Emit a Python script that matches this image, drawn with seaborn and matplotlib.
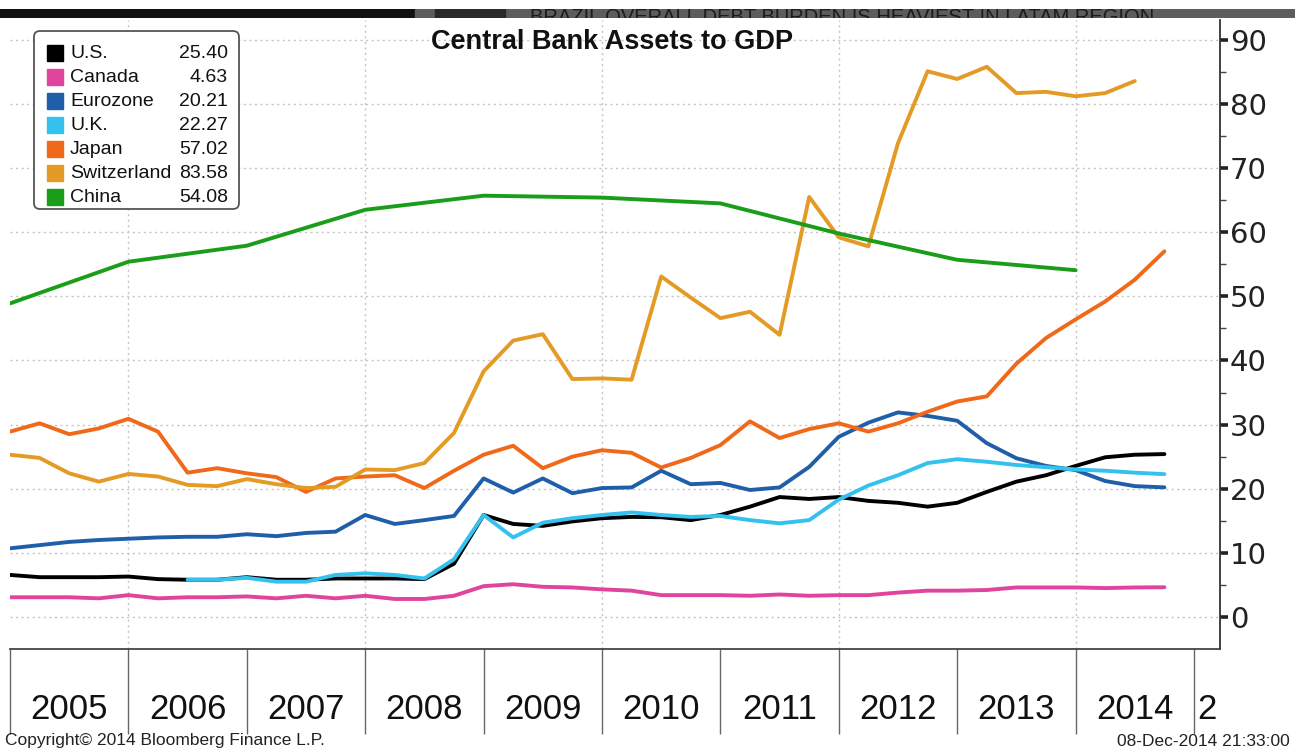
import numpy as np
import pandas as pd
import matplotlib
matplotlib.use("Agg")
import matplotlib.pyplot as plt
import seaborn as sns
from matplotlib import font_manager
from matplotlib.patches import FancyBboxPatch, Rectangle

# ---------------- data ----------------
series_names = ["U.S.", "Canada", "Eurozone", "U.K.", "Japan", "Switzerland", "China"]
series_colors = ["#000000", "#e0449c", "#1f5fa9", "#33c2ee", "#f0691a", "#e39b26", "#1a9e1a"]

quarters = [2005 + q / 4 for q in range(40)]          # 2005Q1 .. 2014Q4 (start of quarter)
china_years = [2005, 2006, 2007, 2008, 2009, 2010, 2011, 2012, 2013, 2014]

us = [6.55, 6.2, 6.2, 6.2, 6.3, 5.9, 5.8, 5.8, 6.2, 5.8,
      5.8, 6.0, 6.0, 6.0, 5.9, 8.3, 15.9, 14.5, 14.2, 14.9,
      15.4, 15.6, 15.55, 15.1, 15.9, 17.2, 18.7, 18.4, 18.7, 18.1,
      17.8, 17.2, 17.8, 19.5, 21.1, 22.1, 23.55, 24.9, 25.3, 25.40]
canada = [3.07, 3.07, 3.07, 2.9, 3.4, 2.9, 3.07, 3.07, 3.2, 2.9,
          3.3, 2.9, 3.3, 2.8, 2.8, 3.3, 4.8, 5.1, 4.7, 4.6,
          4.3, 4.1, 3.4, 3.4, 3.4, 3.3, 3.5, 3.3, 3.4, 3.4,
          3.8, 4.1, 4.1, 4.2, 4.6, 4.6, 4.6, 4.5, 4.6, 4.63]
eurozone = [10.7, 11.2, 11.7, 12.0, 12.2, 12.4, 12.5, 12.5, 12.9, 12.6,
            13.1, 13.3, 15.9, 14.5, 15.1, 15.75, 21.6, 19.4, 21.6, 19.3,
            20.1, 20.2, 22.8, 20.7, 20.9, 19.8, 20.2, 23.4, 28.1, 30.3,
            31.9, 31.35, 30.6, 27.1, 24.75, 23.55, 22.9, 21.2, 20.4, 20.21]
uk_first_quarter = 6   # U.K. series starts in mid-2006
uk = [5.8, 5.8, 6.1, 5.5, 5.5, 6.55, 6.8, 6.55, 6.0, 9.0,
      15.9, 12.4, 14.7, 15.4, 15.9, 16.3, 15.9, 15.6, 15.75, 15.1,
      14.6, 15.1, 18.3, 20.5, 22.1, 24.0, 24.6, 24.2, 23.7, 23.35,
      23.0, 22.8, 22.5, 22.27]
japan = [28.9, 30.2, 28.5, 29.4, 30.9, 28.9, 22.5, 23.2, 22.4, 21.8,
         19.5, 21.6, 21.9, 22.1, 20.1, 22.8, 25.3, 26.7, 23.2, 25.0,
         26.0, 25.6, 23.3, 24.8, 26.8, 30.5, 27.9, 29.3, 30.2, 28.9,
         30.2, 32.0, 33.6, 34.4, 39.5, 43.5, 46.4, 49.2, 52.6, 57.02]
switzerland = [25.3, 24.8, 22.4, 21.1, 22.3, 21.9, 20.6, 20.4, 21.5, 20.7,
               20.1, 20.3, 23.0, 22.9, 24.0, 28.7, 38.3, 43.1, 44.1, 37.1,
               37.2, 37.0, 53.1, 49.8, 46.6, 47.6, 44.0, 65.5, 59.2, 57.8,
               73.9, 85.1, 83.9, 85.8, 81.7, 81.9, 81.2, 81.7, 83.58]
china = [48.9, 55.4, 57.9, 63.5, 65.7, 65.4, 64.5, 59.8, 55.7, 54.08]

year_label_pos = [2005.5, 2006.5, 2007.5, 2008.5, 2009.5, 2010.5, 2011.5,
                  2012.5, 2013.5, 2014.5, 2015.11]
year_labels = ["2005", "2006", "2007", "2008", "2009", "2010", "2011",
               "2012", "2013", "2014", "2"]
year_bounds = list(range(2005, 2016))
vgrid_years = [2006, 2008, 2010, 2012, 2014]
y_major = list(range(0, 91, 10))
y_minor = list(range(5, 90, 10))

series_x = {
    "U.S.": quarters,
    "Canada": quarters,
    "Eurozone": quarters,
    "U.K.": quarters[uk_first_quarter:],
    "Japan": quarters,
    "Switzerland": quarters[:len(switzerland)],
    "China": china_years,
}
series_y = {
    "U.S.": us, "Canada": canada, "Eurozone": eurozone, "U.K.": uk,
    "Japan": japan, "Switzerland": switzerland, "China": china,
}
frames = [pd.DataFrame({"date": series_x[n], "value": series_y[n], "series": n})
          for n in series_names]
df = pd.concat(frames, ignore_index=True)
palette = dict(zip(series_names, series_colors))

# ---------------- style ----------------
sns.set_theme(style="white")
names = {f.name for f in font_manager.fontManager.ttflist}
SANS = "Liberation Sans" if "Liberation Sans" in names else "DejaVu Sans"
NARROW = "Liberation Sans Narrow" if "Liberation Sans Narrow" in names else SANS
YEAR_SIZE = 27 if NARROW != SANS else 25
plt.rcParams["font.family"] = [SANS, "DejaVu Sans"]

W, H = 1295, 749
fig = plt.figure(figsize=(W / 100, H / 100), dpi=100, facecolor="white")

# top banner (screenshot header)
bax = fig.add_axes([0, 1 - 18 / H, 1, 9 / H])
bax.set_xlim(0, W)
bax.set_ylim(18, 9)
bax.axis("off")
bax.add_patch(Rectangle((0, 9), 415, 9, color="#111111"))
bax.add_patch(Rectangle((415, 9), W - 415, 9, color="#5d5d5d"))
bax.add_patch(Rectangle((435, 9), 70, 9, color="#2a2a2a"))
bax.text(530, 8.5, "BRAZIL OVERALL DEBT BURDEN IS HEAVIEST IN LATAM REGION.",
         ha="left", va="top", fontsize=14.5, color="#1c1c1c", clip_on=True)

# main axes
ax = fig.add_axes([10 / W, (H - 649) / H, 1210 / W, 629 / H])
sns.lineplot(data=df, x="date", y="value", hue="series", hue_order=series_names,
             palette=palette, linewidth=2.8, estimator=None, sort=True,
             legend=False, ax=ax)

ax.set_xlim(2005, 2005 + 1210 / 118.4)
ax.set_ylim(-5, 93.1)
ax.set_xlabel("")
ax.set_ylabel("")

for gx in vgrid_years:
    ax.axvline(gx, color="#c4c4c4", ls=(0, (1.5, 2.5)), lw=1, zorder=0)
ax.yaxis.grid(True, which="major", color="#c4c4c4", ls=(0, (1.5, 2.5)), lw=1)
ax.set_axisbelow(True)

# y axis on right
ax.yaxis.tick_right()
ax.set_yticks(y_major)
ax.set_yticks(y_minor, minor=True)
ax.set_yticklabels([str(v) for v in y_major], fontfamily="DejaVu Sans")
ax.tick_params(axis="y", which="major", direction="out", length=6, width=2.6,
               color="#222222", labelsize=21, pad=1, labelcolor="#222222",
               right=True, left=False)
ax.tick_params(axis="y", which="minor", direction="out", length=4, width=1,
               color="#444444", right=True, left=False)

# x axis: long year-boundary ticks, labels centred in each year
ax.set_xticks(year_bounds)
ax.set_xticklabels([])
ax.set_xticks(year_label_pos, minor=True)
ax.set_xticklabels(year_labels, minor=True, fontfamily=NARROW)
ax.tick_params(axis="x", which="major", direction="out", length=61, width=1,
               color="#666666", bottom=True)
ax.tick_params(axis="x", which="minor", length=0, pad=32, labelsize=YEAR_SIZE,
               labelcolor="#111111", bottom=True)

for side in ["left", "top"]:
    ax.spines[side].set_visible(False)
ax.spines["right"].set_color("#333333")
ax.spines["right"].set_linewidth(1.3)
ax.spines["bottom"].set_color("#444444")
ax.spines["bottom"].set_linewidth(1.3)

# legend box
lax = fig.add_axes([33 / W, 1 - 210 / H, 207 / W, 180 / H])
lax.set_xlim(0, 207)
lax.set_ylim(180, 0)
lax.axis("off")
lax.add_patch(FancyBboxPatch((1, 1), 205, 178, boxstyle="round,pad=0,rounding_size=6",
                             ec="#555555", fc="white", lw=1.3))
for i, (name, col) in enumerate(zip(series_names, series_colors)):
    yc = 23 + 24 * i
    lax.add_patch(Rectangle((14, yc - 8), 16, 16, color=col))
    lax.text(37, yc, name, ha="left", va="center", fontsize=14, color="#111111")
    lax.text(195, yc, f"{series_y[name][-1]:.2f}", ha="right", va="center",
             fontsize=14, color="#111111")

# title and footer
fig.text(612 / W, 1 - 42 / H, "Central Bank Assets to GDP", ha="center", va="center",
         fontsize=19.5, fontweight="bold", color="#111111")
fig.text(5 / W, 1 - 741 / H, "Copyright\u00a9 2014 Bloomberg Finance L.P.", ha="left",
         va="center", fontsize=12.5, color="#222222")
fig.text(1290 / W, 1 - 741 / H, "08-Dec-2014 21:33:00", ha="right", va="center",
         fontsize=12.5, color="#222222")

fig.savefig("out.png", dpi=100, facecolor="white")
